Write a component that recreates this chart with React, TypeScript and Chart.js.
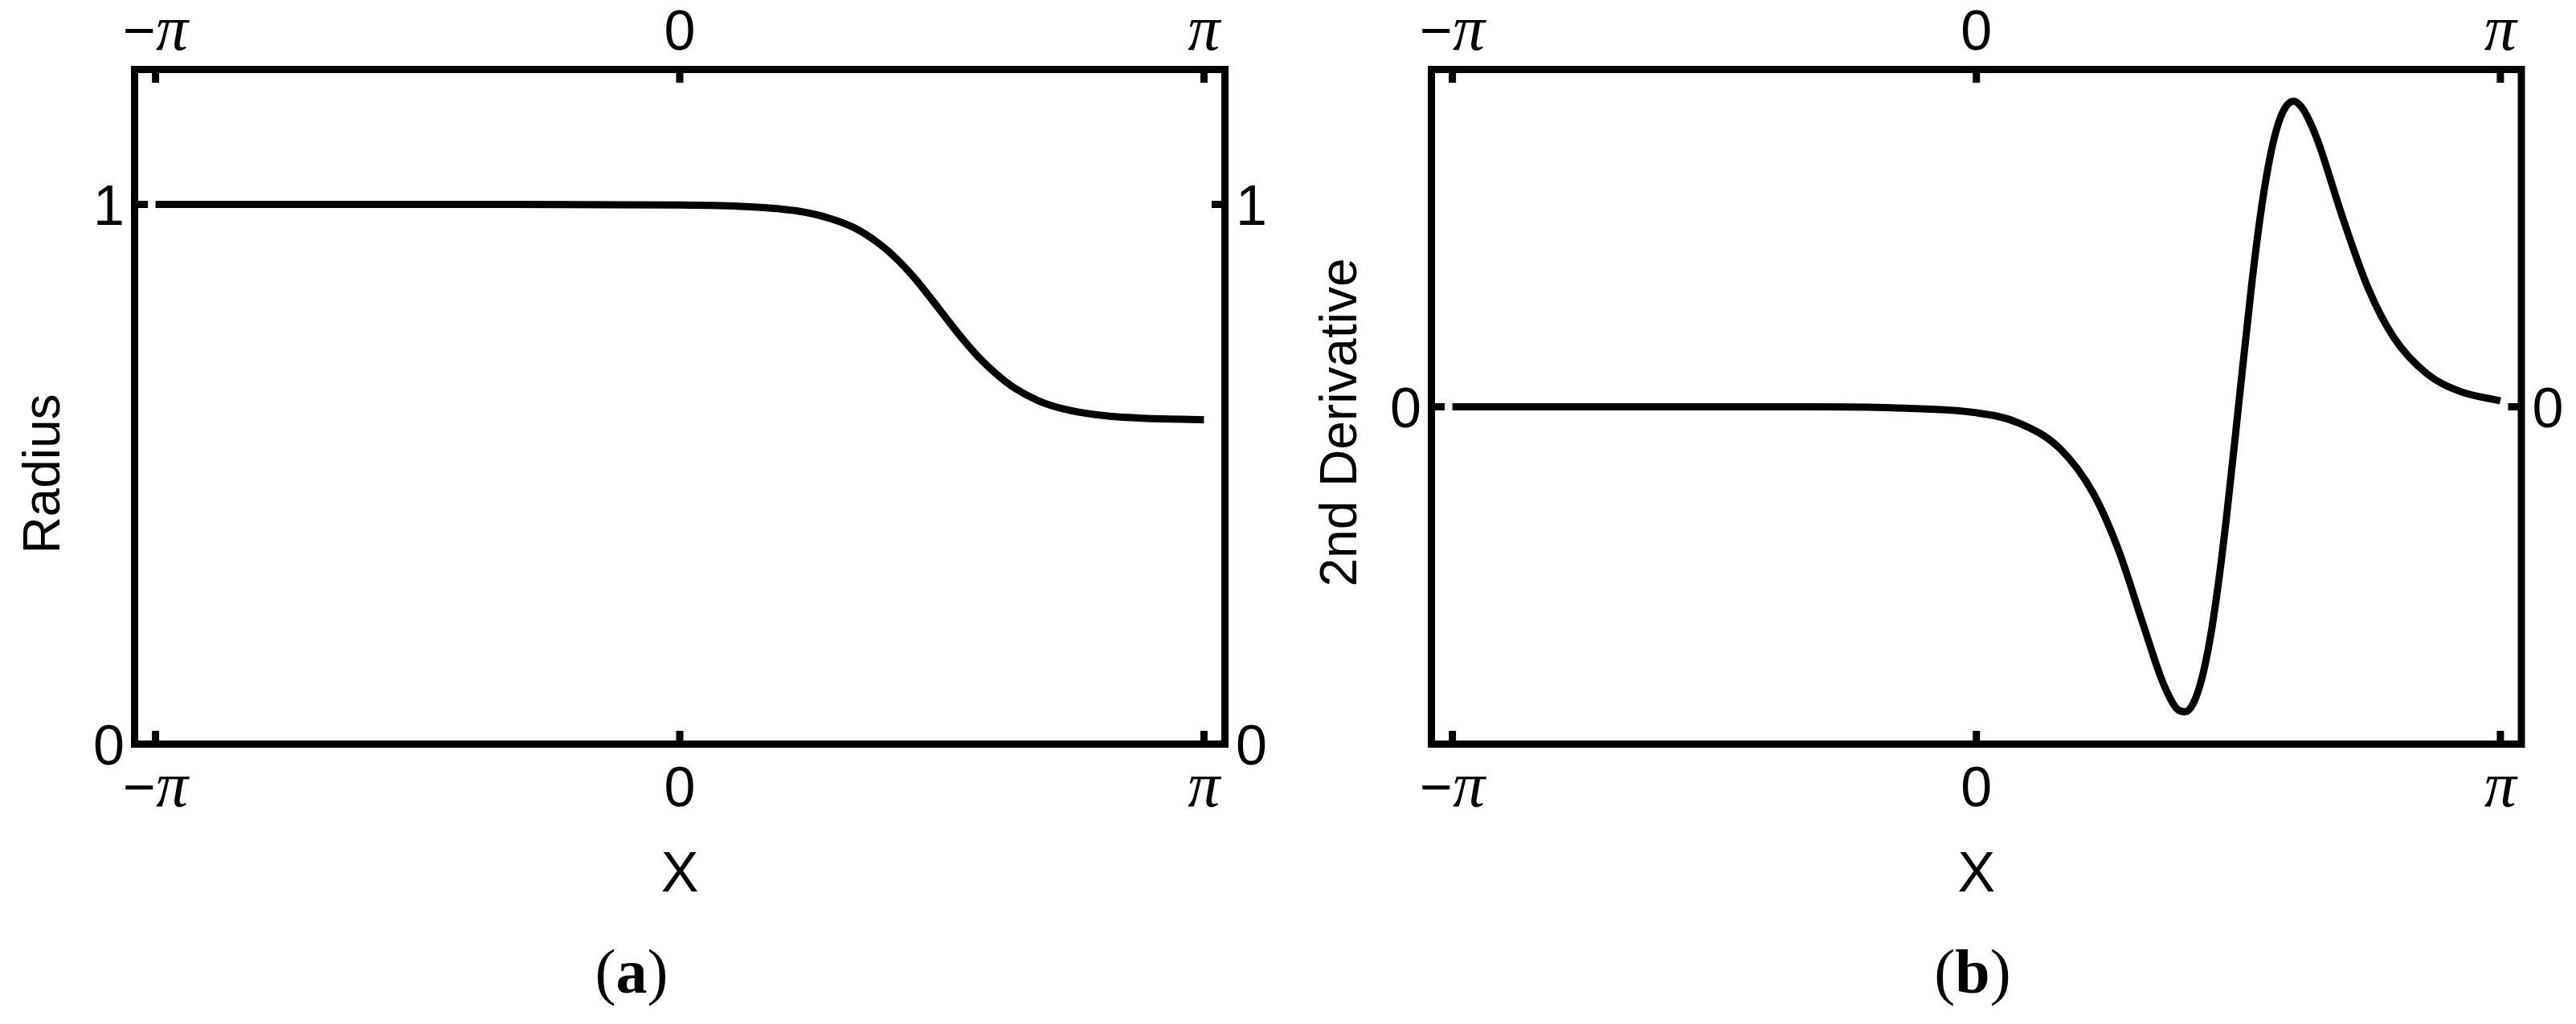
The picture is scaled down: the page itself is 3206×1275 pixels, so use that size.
import React, { useEffect, useRef } from 'react';
import { Chart, registerables } from 'chart.js';

Chart.register(...registerables);

// ---------- data ----------
const radiusX = [-3.1416, -2, -1, 0, 0.4, 0.7, 0.9, 1.05, 1.2, 1.3, 1.4, 1.5, 1.6, 1.7, 1.8, 1.9, 2.0, 2.15, 2.3, 2.5, 2.75, 3.1416];
const radiusY = [1.0, 1.0, 1.0, 0.999, 0.996, 0.988, 0.974, 0.956, 0.926, 0.899, 0.866, 0.828, 0.788, 0.749, 0.714, 0.685, 0.661, 0.636, 0.621, 0.61, 0.604, 0.601];

const derivX = [-3.1416, -2.5, -2, -1.5, -1, -0.5, 0, 0.25, 0.5, 0.7, 0.85, 1.0, 1.1, 1.15, 1.2, 1.25, 1.3, 1.35, 1.4, 1.45, 1.5, 1.571, 1.65, 1.7, 1.75, 1.8, 1.85, 1.9, 1.95, 2.0, 2.05, 2.2, 2.35, 2.5, 2.7, 2.9, 3.1416];
const derivY = [0, 0, 0, 0, 0, -0.002, -0.012, -0.032, -0.084, -0.174, -0.287, -0.439, -0.54, -0.58, -0.608, -0.615, -0.598, -0.55, -0.47, -0.358, -0.221, 0, 0.245, 0.379, 0.485, 0.56, 0.602, 0.616, 0.604, 0.574, 0.533, 0.377, 0.238, 0.141, 0.067, 0.031, 0.012];

const xTickValues = [-Math.PI, 0, Math.PI];
const xTickLabels = ['−π', '0', 'π'];
const radiusTickValues = [0, 1];
const radiusTickLabels = ['0', '1'];
const derivTickValues = [0];
const derivTickLabels = ['0'];

const X_RANGE = Math.PI * 1.04;

const SANS = "'Liberation Sans', Arial, sans-serif";
const SERIF = "'Liberation Serif', 'Times New Roman', serif";

type PanelSpec = {
  xs: number[];
  ys: number[];
  ymin: number;
  ymax: number;
  yTicks: number[];
  yTickLabels: string[];
  yTitle: string;
  yTitleCenter: number;
  caption: string;
  captionX: number;
  padding: { left: number; right: number; top: number; bottom: number };
};

function drawTickLabel(ctx: CanvasRenderingContext2D, text: string, cx: number, baseline: number) {
  if (text.includes('π')) {
    const prefix = text.replace('π', '');
    ctx.font = `70px ${SANS}`;
    const w1 = prefix ? ctx.measureText(prefix).width : 0;
    ctx.font = `italic 80px ${SERIF}`;
    const w2 = ctx.measureText('π').width;
    let x = cx - (w1 + w2) / 2;
    ctx.textAlign = 'left';
    if (prefix) {
      ctx.font = `70px ${SANS}`;
      ctx.fillText(prefix, x, baseline);
      x += w1;
    }
    ctx.font = `italic 80px ${SERIF}`;
    ctx.fillText('π', x, baseline);
  } else {
    ctx.font = `70px ${SANS}`;
    ctx.textAlign = 'center';
    ctx.fillText(text, cx, baseline);
  }
}

function framePlugin(p: PanelSpec) {
  return {
    id: 'mmaFrame',
    afterDraw(chart: any) {
      const { ctx, chartArea, scales } = chart;
      const { left, top, right, bottom } = chartArea;
      const xs = scales.x;
      const ys = scales.y;
      ctx.save();
      ctx.strokeStyle = '#000';
      ctx.fillStyle = '#000';
      ctx.lineWidth = 9;
      ctx.lineJoin = 'miter';
      ctx.lineCap = 'butt';
      ctx.strokeRect(left, top, right - left, bottom - top);
      const seg = (x1: number, y1: number, x2: number, y2: number) => {
        ctx.beginPath();
        ctx.moveTo(x1, y1);
        ctx.lineTo(x2, y2);
        ctx.stroke();
      };
      const tl = 16.5;
      xTickValues.forEach((v) => {
        const px = xs.getPixelForValue(v);
        seg(px, bottom, px, bottom - tl);
        seg(px, top, px, top + tl);
      });
      p.yTicks.forEach((v) => {
        const py = ys.getPixelForValue(v);
        seg(left, py, left + tl, py);
        seg(right, py, right - tl, py);
      });
      ctx.textBaseline = 'alphabetic';
      // x tick labels (bottom and top)
      xTickValues.forEach((v, i) => {
        const px = xs.getPixelForValue(v);
        drawTickLabel(ctx, xTickLabels[i], px, 1004);
        drawTickLabel(ctx, xTickLabels[i], px, 62);
      });
      // y tick labels (left and right)
      ctx.font = `70px ${SANS}`;
      p.yTicks.forEach((v, i) => {
        const py = ys.getPixelForValue(v);
        ctx.textAlign = 'right';
        ctx.fillText(p.yTickLabels[i], left - 12.5, py + 25.5);
        ctx.textAlign = 'left';
        ctx.fillText(p.yTickLabels[i], right + 13.5, py + 25.5);
      });
      // axis titles
      const x0 = xs.getPixelForValue(0);
      ctx.textAlign = 'center';
      ctx.font = `70px ${SANS}`;
      ctx.fillText('X', x0, 1110);
      ctx.save();
      ctx.font = `64px ${SANS}`;
      ctx.translate(left - 93.5, p.yTitleCenter);
      ctx.rotate(-Math.PI / 2);
      ctx.textAlign = 'center';
      ctx.fillText(p.yTitle, 0, 0);
      ctx.restore();
      // caption
      const parts: [string, string][] = [
        ['(', `78px ${SERIF}`],
        [p.caption, `bold 78px ${SERIF}`],
        [')', `78px ${SERIF}`],
      ];
      let total = 0;
      const widths = parts.map(([t, f]) => {
        ctx.font = f;
        const w = ctx.measureText(t).width;
        total += w;
        return w;
      });
      let cx = p.captionX - total / 2;
      ctx.textAlign = 'left';
      parts.forEach(([t, f], i) => {
        ctx.font = f;
        ctx.fillText(t, cx, 1236);
        cx += widths[i];
      });
      ctx.restore();
    },
  };
}

function makeChart(canvas: HTMLCanvasElement, p: PanelSpec) {
  return new Chart(canvas, {
    type: 'line',
    data: {
      datasets: [
        {
          data: p.xs.map((x, i) => ({ x, y: p.ys[i] })),
          borderColor: '#000',
          backgroundColor: '#000',
          borderWidth: 9,
          pointRadius: 0,
          fill: false,
          cubicInterpolationMode: 'monotone',
          borderCapStyle: 'butt',
          borderJoinStyle: 'round',
        },
      ],
    },
    options: {
      animation: false,
      responsive: false,
      devicePixelRatio: 1,
      events: [],
      layout: { padding: p.padding },
      scales: {
        x: { type: 'linear', min: -X_RANGE, max: X_RANGE, display: false },
        y: { type: 'linear', min: p.ymin, max: p.ymax, display: false },
      },
      plugins: { legend: { display: false }, tooltip: { enabled: false } },
    },
    plugins: [framePlugin(p)],
  } as any);
}

const panelA: PanelSpec = {
  xs: radiusX,
  ys: radiusY,
  ymin: 0,
  ymax: 1.25,
  yTicks: radiusTickValues,
  yTickLabels: radiusTickLabels,
  yTitle: 'Radius',
  yTitleCenter: 590,
  caption: 'a',
  captionX: 786,
  padding: { left: 167.5, right: 78.5, top: 86.5, bottom: 348.5 },
};

const panelB: PanelSpec = {
  xs: derivX,
  ys: derivY,
  ymin: -0.68,
  ymax: 0.68,
  yTicks: derivTickValues,
  yTickLabels: derivTickLabels,
  yTitle: '2nd Derivative',
  yTitleCenter: 526,
  caption: 'b',
  captionX: 2455 - 1603,
  padding: { left: 178.5, right: 68, top: 86.5, bottom: 348.5 },
};

export default function App() {
  const refA = useRef<HTMLCanvasElement | null>(null);
  const refB = useRef<HTMLCanvasElement | null>(null);
  useEffect(() => {
    document.body.style.margin = '0';
    document.body.style.overflow = 'hidden';
    const a = makeChart(refA.current!, panelA);
    const b = makeChart(refB.current!, panelB);
    return () => {
      a.destroy();
      b.destroy();
    };
  }, []);
  return (
    <div style={{ position: 'absolute', left: 0, top: 0, width: 3206, height: 1275, background: '#fff' }}>
      <canvas ref={refA} width={1603} height={1275} style={{ position: 'absolute', left: 0, top: 0, width: 1603, height: 1275 }} />
      <canvas ref={refB} width={1603} height={1275} style={{ position: 'absolute', left: 1603, top: 0, width: 1603, height: 1275 }} />
    </div>
  );
}
